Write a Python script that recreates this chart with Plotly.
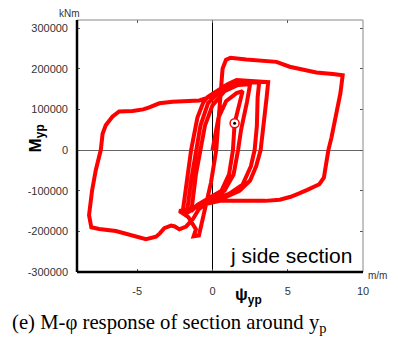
import plotly.graph_objects as go

# ---- data (curvature psi_yp [m/m], moment M_yp [kNm]) ----
phi = [0.0, 0.4, 0.9, 1.6, 2.0, 1.75, 1.47, 1.36, 1.1, 0.6, -0.2, -1.0, -1.4,
       -1.1, -0.8, -0.5, 0.0, 0.8, 1.7, 2.5, 2.3, 1.9, 1.7, 1.4, 0.8, 0.0, -1.0, -1.7,
       -1.4, -1.1, -0.8, -0.3, 0.6, 1.5, 3.1, 3.0, 2.95, 2.8, 2.55, 2.0, 1.1, 0.0, -1.2, -2.0,
       -1.7, -1.42, -1.0, -0.6, -0.3, 1.0, 1.6, 3.7, 3.6, 3.4, 3.2, 2.9, 2.5, 1.8, 0.9, 0.0, -1.0, -2.2,
       -1.6, -1.1, -1.25, -0.9, -0.7, -0.5, -0.1, 0.25, 0.5, 0.67, 0.9, 1.2, 2.25, 3.3, 4.25, 5.13,
       6.0, 6.9, 8.0, 8.65, 8.5, 8.2, 7.9, 7.7, 7.55, 7.4, 7.1, 6.9, 6.3, 5.8, 5.2, 4.47, 3.5, 2.0,
       0.5, -0.4, -0.9, -1.3, -1.75, -2.2, -2.5, -2.75, -3.2, -3.5, -3.75, -4.42, -5.31, -6.42,
       -7.53, -8.05, -8.2, -8.0, -7.75, -7.42, -7.3, -7.09, -6.65, -6.2, -5.31, -4.6, -4.2, -3.53,
       -2.65, -0.87, -0.4, 0.2]
moment = [0, 80000, 120000, 140000, 145000, 105000, 66000, 0, -60000, -100000, -118000, -135000, -150000,
          -60000, 0, 60000, 110000, 145000, 160000, 162000, 120000, 50000, 0, -60000, -100000, -120000, -138000, -155000,
          -70000, 0, 60000, 115000, 150000, 168000, 166000, 130000, 60000, 0, -40000, -85000, -108000, -122000, -140000, -158000,
          -80000, 0, 80000, 118000, 131000, 162000, 172000, 167000, 130000, 70000, 0, -40000, -75000, -100000, -115000, -127000, -140000, -150000,
          -165000, -195000, -212000, -210000, -180000, -150000, -80000, 0, 120000, 200000, 222000, 227000, 223000, 220000, 217000, 205000,
          197000, 191000, 187000, 184000, 140000, 80000, 30000, 0, -40000, -68000, -84000, -88000, -98000, -106000, -115000, -122000, -125000, -125000,
          -125000, -132000, -145000, -170000, -188000, -195000, -188000, -186000, -192000, -205000, -213000, -219000, -209000, -199000,
          -194000, -190000, -160000, -100000, -49000, 0, 40000, 61000, 82000, 95000, 96000, 100000, 105000, 115000,
          119000, 122000, 128000, 140000]
marker_phi = [1.47]
marker_m = [66000]
x_ticks = [-5, 0, 5, 10]
y_ticks = [-300000, -200000, -100000, 0, 100000, 200000, 300000]

fig = go.Figure()
fig.add_trace(go.Scatter(x=phi, y=moment, mode="lines",
                         line=dict(color="#ff0000", width=4), hoverinfo="skip"))
fig.add_trace(go.Scatter(x=marker_phi, y=marker_m, mode="markers",
                         marker=dict(size=9, color="white", line=dict(color="#ff0000", width=1.5))))
fig.add_trace(go.Scatter(x=marker_phi, y=marker_m, mode="markers",
                         marker=dict(size=3, color="black")))

tickfont = dict(family="Liberation Sans, Arial", size=11, color="#333333")
# page body has an 8px margin, so the figure is offset by 8px right/down
fig.update_layout(
    width=398, height=349,
    margin=dict(l=69, r=43, t=12, b=85),
    paper_bgcolor="white", plot_bgcolor="white",
    showlegend=False,
    xaxis=dict(range=[-9, 10], tickvals=x_ticks, ticktext=[str(v) for v in x_ticks],
               showgrid=False, zeroline=True, zerolinecolor="#000000", zerolinewidth=1,
               showline=False, mirror="ticks", ticks="inside", ticklen=3, tickcolor="#555555",
               tickfont=tickfont, ticklabelstandoff=11),
    yaxis=dict(range=[-300000, 320000], tickvals=y_ticks, ticktext=[str(v) for v in y_ticks],
               showgrid=False, zeroline=True, zerolinecolor="#666666", zerolinewidth=1,
               showline=False, mirror="ticks", ticks="inside", ticklen=3, tickcolor="#555555",
               tickfont=tickfont, ticklabelstandoff=8),
    shapes=[
        dict(type="line", xref="x domain", yref="y domain", x0=0, x1=1, y0=1, y1=1,
             line=dict(color="#888888", width=1)),
        dict(type="line", xref="x domain", yref="y domain", x0=1, x1=1, y0=0, y1=1,
             line=dict(color="#888888", width=1)),
        dict(type="line", xref="x domain", yref="y domain", x0=0, x1=1, y0=0, y1=0,
             line=dict(color="#000000", width=2.5)),
        dict(type="line", xref="x domain", yref="y domain", x0=0, x1=0, y0=0, y1=1,
             line=dict(color="#000000", width=2.5)),
    ],
)

ann = [
    dict(text="kNm", x=-0.025, y=1.025, xanchor="center", yanchor="middle",
         font=dict(family="Liberation Sans, Arial", size=10, color="#333333")),
    dict(text="m/m", x=1.049, y=-0.015, xanchor="center", yanchor="middle",
         font=dict(family="Liberation Sans, Arial", size=10, color="#333333")),
    dict(text="<b>M<sub>yp</sub></b>", x=-0.14, y=0.53, textangle=-90, xanchor="center", yanchor="middle",
         font=dict(family="Liberation Sans, Arial", size=17, color="#000000")),
    dict(text="<b>ψ<sub>yp</sub></b>", x=0.6, y=-0.095, xanchor="center", yanchor="middle",
         font=dict(family="Liberation Sans, Arial", size=17, color="#000000")),
    dict(text="j side section", x=0.9685, y=0.065, xanchor="right", yanchor="middle",
         font=dict(family="Liberation Sans, Arial", size=21, color="#000000")),
    dict(text="(e) M-φ response of section around y<sub>p</sub>", x=-0.234, y=-0.205,
         xanchor="left", yanchor="middle",
         font=dict(family="Liberation Serif, Times New Roman", size=20.7, color="#000000")),
]
for a in ann:
    a.update(xref="paper", yref="paper", showarrow=False)
fig.update_layout(annotations=ann)

fig.write_html("out.html")
